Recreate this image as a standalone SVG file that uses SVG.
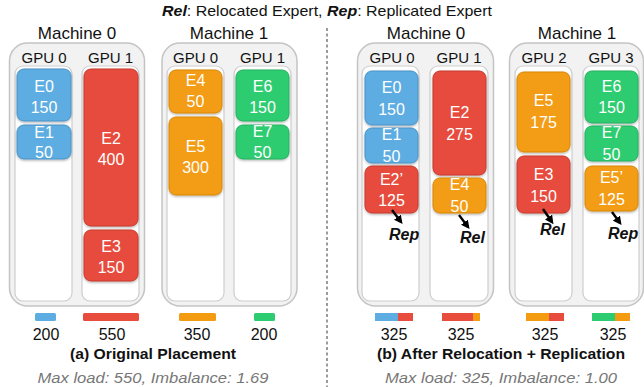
<svg xmlns="http://www.w3.org/2000/svg" width="644" height="387" viewBox="0 0 644 387">
<defs>
<filter id="sh" x="-20%" y="-20%" width="140%" height="140%">
<feDropShadow dx="0" dy="1.2" stdDeviation="0.8" flood-color="#000" flood-opacity="0.3"/>
</filter>
<marker id="ah" viewBox="0 0 10 10" refX="7" refY="5" markerWidth="3.6" markerHeight="3.6" orient="auto">
<path d="M0,0 L10,5 L0,10 z" fill="#000"/>
</marker>
<style>
text{font-family:"Liberation Sans",Arial,sans-serif;}
.mach{fill:#f2f2f2;stroke:#c4c4c4;stroke-width:1.5;}
.col{fill:#fff;stroke:#cdcdcd;stroke-width:1.2;}
.lbl{font-size:17px;fill:#111;text-anchor:middle;}
.gpu{font-size:15px;fill:#111;text-anchor:middle;}
.et{font-size:16px;fill:#fff;text-anchor:middle;}
.b{fill:#5DADE2;stroke:#4a93c8;stroke-width:1;filter:url(#sh);}
.r{fill:#E74C3C;stroke:#c63b2d;stroke-width:1;filter:url(#sh);}
.o{fill:#F39C12;stroke:#d8870c;stroke-width:1;filter:url(#sh);}
.g{fill:#2ECC71;stroke:#26b060;stroke-width:1;filter:url(#sh);}
.bf{fill:#5DADE2;} .rf{fill:#E74C3C;} .of{fill:#F39C12;} .gf{fill:#2ECC71;}
.num{font-size:16px;fill:#111;text-anchor:middle;}
.cap{font-size:15px;font-weight:bold;fill:#111;text-anchor:middle;}
.sub{font-size:15px;font-style:italic;fill:#777;text-anchor:middle;}
.tag{font-size:16px;font-weight:bold;font-style:italic;fill:#111;}
.arr{stroke:#000;stroke-width:2.4;fill:none;marker-end:url(#ah);}
</style>
</defs>

<text x="327" y="16" font-size="15" fill="#111" text-anchor="middle" textLength="330" lengthAdjust="spacingAndGlyphs"><tspan font-weight="bold" font-style="italic">Rel</tspan>: Relocated Expert, <tspan font-weight="bold" font-style="italic">Rep</tspan>: Replicated Expert</text>

<line x1="327" y1="28" x2="327" y2="387" stroke="#666" stroke-width="1.3" stroke-dasharray="3,2.5"/>

<!-- Left: Machine 0 -->
<g id="a-machine0">
<text class="lbl" x="77" y="39">Machine 0</text>
<rect class="mach" x="9.5" y="43" width="135" height="263" rx="18"/>
<text class="gpu" x="44" y="63">GPU 0</text>
<text class="gpu" x="110.5" y="63">GPU 1</text>
<rect class="col" x="15" y="66" width="57" height="235" rx="8"/>
<rect class="col" x="82" y="66" width="57" height="235" rx="8"/>
</g>
<g id="a-E0"><rect class="b" x="17" y="69" width="54" height="52" rx="7"/><text class="et" x="44" y="92">E0</text><text class="et" x="44" y="113">150</text></g>
<g id="a-E1"><rect class="b" x="17" y="125" width="54" height="34" rx="7"/><text class="et" x="44" y="138">E1</text><text class="et" x="44" y="158">50</text></g>
<g id="a-E2"><rect class="r" x="84" y="69" width="54" height="157" rx="7"/><text class="et" x="111" y="144">E2</text><text class="et" x="111" y="165">400</text></g>
<g id="a-E3"><rect class="r" x="84" y="230" width="54" height="51" rx="7"/><text class="et" x="111" y="252">E3</text><text class="et" x="111" y="273">150</text></g>

<!-- Left: Machine 1 -->
<g id="a-machine1">
<text class="lbl" x="229" y="39">Machine 1</text>
<rect class="mach" x="162" y="43" width="135" height="263" rx="18"/>
<text class="gpu" x="195.5" y="63">GPU 0</text>
<text class="gpu" x="262.5" y="63">GPU 1</text>
<rect class="col" x="167" y="66" width="57" height="235" rx="8"/>
<rect class="col" x="234" y="66" width="57" height="235" rx="8"/>
</g>
<g id="a-E4"><rect class="o" x="169" y="70" width="53" height="43" rx="7"/><text class="et" x="195.5" y="86">E4</text><text class="et" x="195.5" y="107">50</text></g>
<g id="a-E5"><rect class="o" x="169" y="117" width="53" height="78" rx="7"/><text class="et" x="195.5" y="152">E5</text><text class="et" x="195.5" y="173">300</text></g>
<g id="a-E6"><rect class="g" x="236" y="70" width="53" height="51" rx="7"/><text class="et" x="262.5" y="92">E6</text><text class="et" x="262.5" y="113">150</text></g>
<g id="a-E7"><rect class="g" x="236" y="125" width="53" height="34" rx="7"/><text class="et" x="262.5" y="137">E7</text><text class="et" x="262.5" y="158">50</text></g>

<!-- Left load bars -->
<g id="a-loads">
<rect class="bf" x="35" y="313" width="21" height="8" rx="1.5"/>
<rect class="rf" x="83" y="313" width="56" height="8" rx="1.5"/>
<rect class="of" x="179" y="313" width="37" height="8" rx="1.5"/>
<rect class="gf" x="254" y="313" width="21" height="8" rx="1.5"/>
<text class="num" x="46" y="340">200</text>
<text class="num" x="112" y="340">550</text>
<text class="num" x="197" y="340">350</text>
<text class="num" x="264" y="340">200</text>
<text class="cap" x="153" y="359" textLength="166" lengthAdjust="spacingAndGlyphs">(a) Original Placement</text>
<text class="sub" x="153" y="383" textLength="231" lengthAdjust="spacingAndGlyphs">Max load: 550, Imbalance: 1.69</text>
</g>

<!-- Right: Machine 0 -->
<g id="b-machine0">
<text class="lbl" x="426" y="39">Machine 0</text>
<rect class="mach" x="357.5" y="43" width="136" height="263" rx="18"/>
<text class="gpu" x="392" y="63">GPU 0</text>
<text class="gpu" x="459" y="63">GPU 1</text>
<rect class="col" x="362" y="66" width="57" height="235" rx="8"/>
<rect class="col" x="430" y="66" width="58" height="235" rx="8"/>
</g>
<g id="b-E0"><rect class="b" x="365" y="71" width="53" height="54" rx="7"/><text class="et" x="391.5" y="93">E0</text><text class="et" x="391.5" y="115">150</text></g>
<g id="b-E1"><rect class="b" x="365" y="128" width="53" height="35" rx="7"/><text class="et" x="391.5" y="140">E1</text><text class="et" x="391.5" y="162">50</text></g>
<g id="b-E2r"><rect class="r" x="365" y="166" width="53" height="47" rx="7"/><text class="et" x="391.5" y="185">E2’</text><text class="et" x="391.5" y="206">125</text></g>
<g id="b-E2"><rect class="r" x="433" y="71" width="53" height="104" rx="7"/><text class="et" x="459.5" y="118">E2</text><text class="et" x="459.5" y="140">275</text></g>
<g id="b-E4"><rect class="o" x="433" y="178" width="53" height="35" rx="7"/><text class="et" x="459.5" y="190">E4</text><text class="et" x="459.5" y="212">50</text></g>

<!-- Right: Machine 1 -->
<g id="b-machine1">
<text class="lbl" x="577" y="39">Machine 1</text>
<rect class="mach" x="509.5" y="43" width="134" height="263" rx="18"/>
<text class="gpu" x="544" y="63">GPU 2</text>
<text class="gpu" x="611" y="63">GPU 3</text>
<rect class="col" x="515" y="66" width="57" height="235" rx="8"/>
<rect class="col" x="583" y="66" width="56" height="235" rx="8"/>
</g>
<g id="b-E5"><rect class="o" x="517" y="72" width="53" height="80" rx="7"/><text class="et" x="543.5" y="106">E5</text><text class="et" x="543.5" y="128">175</text></g>
<g id="b-E3"><rect class="r" x="517" y="156" width="53" height="57" rx="7"/><text class="et" x="543.5" y="180">E3</text><text class="et" x="543.5" y="202">150</text></g>
<g id="b-E6"><rect class="g" x="585" y="71" width="53" height="52" rx="7"/><text class="et" x="611.5" y="92">E6</text><text class="et" x="611.5" y="113">150</text></g>
<g id="b-E7"><rect class="g" x="585" y="126" width="53" height="35" rx="7"/><text class="et" x="611.5" y="138">E7</text><text class="et" x="611.5" y="160">50</text></g>
<g id="b-E5r"><rect class="o" x="585" y="166" width="53" height="45" rx="7"/><text class="et" x="611.5" y="183">E5’</text><text class="et" x="611.5" y="205">125</text></g>

<!-- Connectors (Rel / Rep annotations) -->
<g id="connectors">
<line class="arr" x1="392" y1="210" x2="401" y2="222"/>
<line class="arr" x1="459" y1="215" x2="468" y2="227"/>
<line class="arr" x1="543" y1="209" x2="552" y2="222"/>
<line class="arr" x1="612" y1="212" x2="620" y2="223"/>
</g>
<g id="tags">
<text class="tag" x="389" y="240">Rep</text>
<text class="tag" x="460" y="243">Rel</text>
<text class="tag" x="540" y="235">Rel</text>
<text class="tag" x="608" y="239">Rep</text>
</g>

<!-- Right load bars -->
<g id="b-loads">
<rect class="bf" x="375" y="313" width="24" height="8"/>
<rect class="rf" x="398" y="313" width="15" height="8"/>
<rect class="rf" x="442" y="313" width="31" height="8"/>
<rect class="of" x="473" y="313" width="7" height="8"/>
<rect class="of" x="526" y="313" width="23" height="8"/>
<rect class="rf" x="549" y="313" width="15" height="8"/>
<rect class="gf" x="592" y="313" width="23" height="8"/>
<rect class="of" x="615" y="313" width="15" height="8"/>
<text class="num" x="394" y="340">325</text>
<text class="num" x="461" y="340">325</text>
<text class="num" x="545" y="340">325</text>
<text class="num" x="613" y="340">325</text>
<text class="cap" x="501" y="359" textLength="248" lengthAdjust="spacingAndGlyphs">(b) After Relocation + Replication</text>
<text class="sub" x="501" y="383" textLength="232" lengthAdjust="spacingAndGlyphs">Max load: 325, Imbalance: 1.00</text>
</g>
</svg>
